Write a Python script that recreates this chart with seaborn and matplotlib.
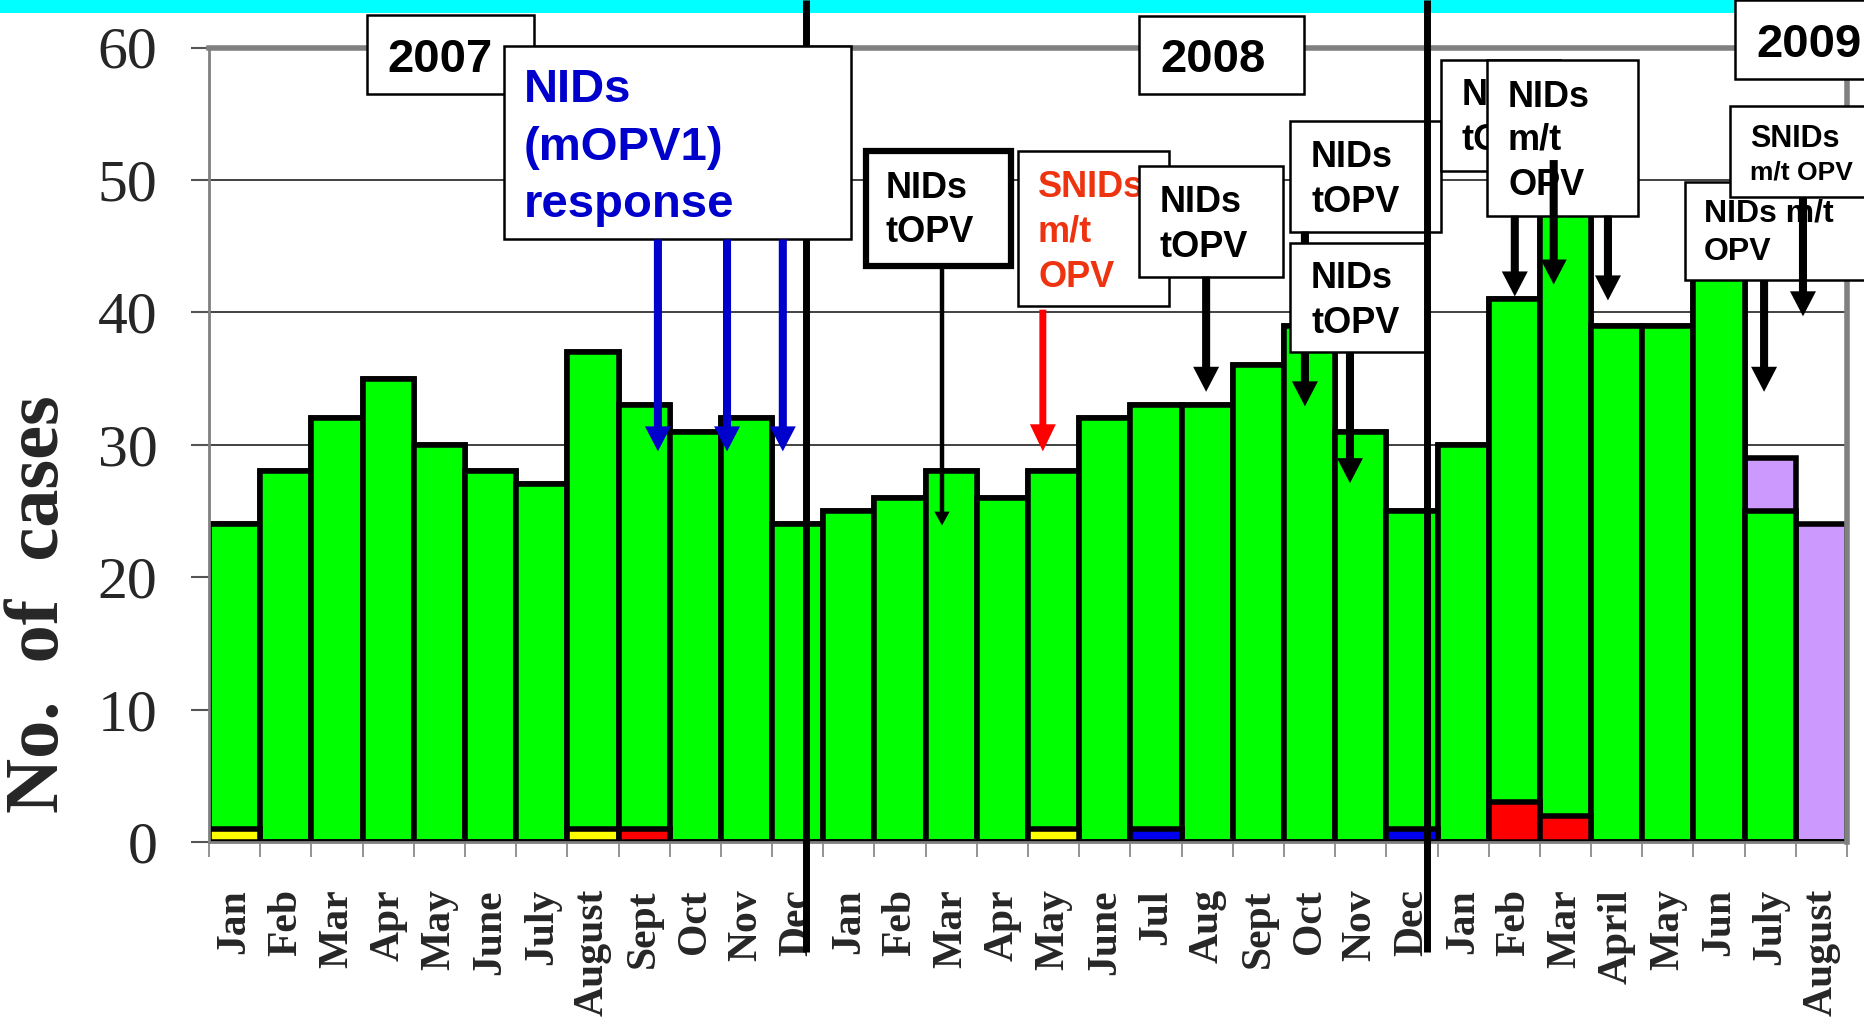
import numpy as np
import pandas as pd
import matplotlib
matplotlib.use('Agg')
import matplotlib.pyplot as plt
from matplotlib.patches import Rectangle
from matplotlib.transforms import Affine2D, blended_transform_factory
import seaborn as sns

# ---- data (monthly polio cases, 2007 - Aug 2009) ----
months = ['Jan', 'Feb', 'Mar', 'Apr', 'May', 'June', 'July', 'August', 'Sept', 'Oct', 'Nov', 'Dec',
          'Jan', 'Feb', 'Mar', 'Apr', 'May', 'June', 'Jul', 'Aug', 'Sept', 'Oct', 'Nov', 'Dec',
          'Jan', 'Feb', 'Mar', 'April', 'May', 'Jun', 'July', 'August']

# small bottom segment and its type (Y = yellow, R = red, B = blue)
low_cases = [1, 0, 0, 0, 0, 0, 0, 1, 1, 0, 0, 0,
             0, 0, 0, 0, 1, 0, 1, 0, 0, 0, 0, 1,
             0, 3, 2, 0, 0, 0, 0, 0]
low_kind = ['Y', '', '', '', '', '', '', 'Y', 'R', '', '', '',
            '', '', '', '', 'Y', '', 'B', '', '', '', '', 'B',
            '', 'R', 'R', '', '', '', '', '']
green_cases = [23, 28, 32, 35, 30, 28, 27, 36, 32, 31, 32, 24,
               25, 26, 28, 26, 27, 32, 32, 33, 36, 39, 31, 24,
               30, 38, 47, 39, 39, 43, 25, 0]
purple_cases = [0, 0, 0, 0, 0, 0, 0, 0, 0, 0, 0, 0,
                0, 0, 0, 0, 0, 0, 0, 0, 0, 0, 0, 0,
                0, 0, 0, 0, 0, 0, 4, 24]

kind_colors = {'Y': '#FFFF00', 'R': '#FF0000', 'B': '#0000EE', '': '#00FF00'}

n = len(months)
df = pd.DataFrame({
    'slot': [f's{i:02d}' for i in range(n)],
    'low': low_cases,
    'green': green_cases,
    'purple': purple_cases,
})
df['green_top'] = df['low'] + df['green']
df['total'] = df['green_top'] + df['purple']

sns.set_theme(style='white')
plt.rcParams['font.family'] = ['Liberation Serif', 'DejaVu Serif']

W, H = 1864, 1024
fig = plt.figure(figsize=(W / 100, H / 100), dpi=100)
ax = fig.add_axes([209 / W, 182 / H, 1638 / W, 794.5 / H])

# stacked bars by over-drawing: total, then green top, then bottom segment
bar_kw = dict(edgecolor='black', linewidth=4, saturation=1, width=1, errorbar=None, ax=ax)
sns.barplot(data=df, x='slot', y='total', color='#CC99FF', **bar_kw)
sns.barplot(data=df, x='slot', y='green_top', color='#00FF00', **bar_kw)
sns.barplot(data=df, x='slot', y='low', hue='slot',
            palette=dict(zip(df['slot'], [kind_colors[k] for k in low_kind])),
            dodge=False, legend=False, **bar_kw)

ax.set_xlim(-0.5, n - 0.5)
ax.set_ylim(0, 60)
ax.set_xlabel('')
ax.set_ylabel('')

ax.set_xticks(range(n))
ax.set_xticklabels(months, rotation=90, fontsize=30, fontweight='bold')
ax.set_xticks(np.arange(-0.5, n, 1), minor=True)
ax.tick_params(axis='x', which='major', length=0, pad=34, bottom=True)
ax.tick_params(axis='x', which='minor', length=11, width=1.2, color='#808080', bottom=True)

ax.set_yticks(range(0, 61, 10))
ax.set_yticklabels([str(v) for v in range(0, 61, 10)], fontsize=43)
ax.tick_params(axis='y', length=13, width=1.5, color='#555555', pad=24, left=True)

ax.yaxis.grid(True, color='#333333', lw=1.3)
ax.set_axisbelow(True)
for side, lw in [('left', 2), ('bottom', 2), ('top', 4), ('right', 4)]:
    ax.spines[side].set_color('#808080')
    ax.spines[side].set_linewidth(lw)

# pixel transform (top-left origin) for the slide annotations
px = Affine2D().scale(1 / W, -1 / H).translate(0, 1) + fig.transFigure
sep_tf = blended_transform_factory(ax.transData, px)


def draw_box(x0, y0, x1, y1, lw=1.8, z=5, fc='white'):
    ax.add_patch(Rectangle((x0, y0), x1 - x0, y1 - y0, transform=px, facecolor=fc,
                           edgecolor='black' if lw else 'none', lw=lw, clip_on=False, zorder=z))


def draw_text(x, y, s, size, color='black', z=5.1):
    ax.text(x, y, s, transform=px, fontsize=size, fontweight='bold',
            family=['Liberation Sans', 'DejaVu Sans'], color=color,
            ha='left', va='baseline', clip_on=False, zorder=z)


def draw_arrow(x, tail, tip, color='black', tw=5.8, hw=18.7, hl=18, z=5.2):
    ax.annotate('', xy=(x, tip), xytext=(x, tail), xycoords='data',
                arrowprops=dict(arrowstyle=f'simple,head_length={hl},head_width={hw},tail_width={tw}',
                                fc=color, ec='none', lw=0, shrinkA=0, shrinkB=0, mutation_scale=1),
                annotation_clip=False, zorder=z)


def year_line(x, z):
    ax.plot([x, x], [0, 952], transform=sep_tf, color='black', lw=5,
            clip_on=False, zorder=z, solid_capstyle='butt')


# cyan strip at top of slide
draw_box(0, 0, W, 13, lw=0, z=2.9, fc='#00FFFF')

# year separators
year_line(11.17, 3)

# year boxes
draw_box(367, 15, 534, 94, z=4)
draw_text(387, 72, '2007', 34, z=4.1)
draw_box(1139, 16, 1304, 94, z=4)
draw_text(1160, 72, '2008', 34, z=4.1)

# NIDs (mOPV1) response
blue = '#0000CC'
draw_box(504, 46, 851, 239, z=5)
draw_text(524, 102, 'NIDs', 34, color=blue)
draw_text(524, 160, '(mOPV1)', 34, color=blue)
draw_text(524, 217, 'response', 34, color=blue)
for xa in [8.27, 9.62, 10.71]:
    draw_arrow(xa, 45.5, 29.5, color=blue)

# NIDs tOPV (thick frame)
draw_box(866, 151, 1011, 266, lw=4.5, z=4)
draw_text(886, 198, 'NIDs', 26, z=4.1)
draw_text(886, 242, 'tOPV', 26, z=4.1)
draw_arrow(13.82, 43.5, 23.9, tw=3.2, hw=11, hl=10, z=4.2)

# SNIDs m/t OPV (red)
red_txt = '#EE3311'
draw_box(1018, 151, 1169, 306, z=4)
draw_text(1038, 197, 'SNIDs', 26, color=red_txt, z=4.1)
draw_text(1038, 242, 'm/t', 26, color=red_txt, z=4.1)
draw_text(1038, 287, 'OPV', 26, color=red_txt, z=4.1)
draw_arrow(15.79, 40.2, 29.5, color='#FF0000', tw=5, hw=18.7, hl=19.5, z=4.2)

# NIDs tOPV
draw_box(1139, 166, 1283, 277, z=5)
draw_text(1160, 212, 'NIDs', 26, z=5.1)
draw_text(1160, 257, 'tOPV', 26, z=5.1)
draw_arrow(18.98, 42.7, 34.0, z=5.2)

# two stacked NIDs tOPV boxes
draw_box(1290, 121, 1441, 232, z=4)
draw_text(1311, 167, 'NIDs', 26, z=4.1)
draw_text(1311, 212, 'tOPV', 26, z=4.1)
draw_arrow(20.91, 46.1, 32.9, z=4.2)
draw_box(1290, 243, 1426, 352, z=5)
draw_text(1311, 288, 'NIDs', 26, z=5.1)
draw_text(1311, 333, 'tOPV', 26, z=5.1)
draw_arrow(21.79, 37.0, 27.1, z=5.2)

year_line(23.29, 6)

# 2009 boxes
draw_box(1441, 60, 1560, 171, z=6.5)
draw_text(1462, 105, 'NIDs', 26, z=6.6)
draw_text(1462, 150, 'tOPV', 26, z=6.6)
draw_box(1487, 60, 1638, 216, z=7)
draw_text(1508, 107, 'NIDs', 26, z=7.1)
draw_text(1508, 150, 'm/t', 26, z=7.1)
draw_text(1508, 195, 'OPV', 26, z=7.1)
draw_arrow(25.01, 47.3, 41.2, z=7.2)
draw_arrow(25.77, 51.5, 42.1, z=7.2)
draw_arrow(26.83, 47.3, 40.9, z=7.2)

draw_box(1685, 182, 1875, 280, z=7)
draw_text(1704, 222, 'NIDs m/t', 23, z=7.1)
draw_text(1704, 260, 'OPV', 23, z=7.1)
draw_arrow(29.88, 42.4, 34.0, z=7.2)
draw_box(1730, 106, 1875, 197, z=7.5)
draw_text(1750, 147, 'SNIDs', 22, z=7.6)
draw_text(1750, 180, 'm/t OPV', 19, z=7.6)
draw_arrow(30.64, 48.7, 39.7, z=7.7)

draw_box(1735, 0, 1875, 79, z=8)
draw_text(1756, 57, '2009', 34, z=8.1)

# y axis title
ax.text(40, 604, 'No.  of  cases', transform=px, rotation=90, ha='center', va='center',
        fontsize=55, fontweight='bold', clip_on=False)

fig.savefig('out.png', dpi=100)
